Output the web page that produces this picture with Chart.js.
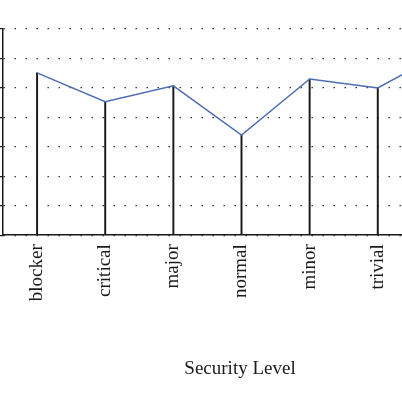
<!DOCTYPE html>
<html>
<head>
<meta charset="utf-8">
<script src="https://cdn.jsdelivr.net/npm/chart.js@4"></script>
<style>
  html, body { margin: 0; padding: 0; width: 402px; height: 402px; overflow: hidden; background: #fff; }
  #wrap { position: absolute; left: 0; top: 0; width: 482px; height: 402px; }
</style>
</head>
<body>
<div id="wrap"><canvas id="c"></canvas></div>
<script>
const categories = ["blocker", "critical", "major", "normal", "minor", "trivial", "enhancement"];
const values = [5.51, 4.53, 5.07, 3.40, 5.30, 5.00, 6.26];
const yTicks = [0, 1, 2, 3, 4, 5, 6, 7];
const axisTitle = "Security Level";

new Chart(document.getElementById('c'), {
  data: {
    labels: categories,
    datasets: [
      {
        type: 'line',
        data: values,
        borderColor: '#4a6cb3',
        borderWidth: 1.4,
        pointRadius: 0,
        tension: 0,
        order: 0,
        clip: false
      },
      {
        type: 'bar',
        data: values,
        backgroundColor: '#1a1a1a',
        barThickness: 1.3,
        order: 1
      }
    ]
  },
  options: {
    responsive: true,
    maintainAspectRatio: false,
    animation: false,
    layout: { padding: { top: 29, left: 0, right: 2, bottom: 0 } },
    plugins: {
      legend: { display: false },
      tooltip: { enabled: false },
      title: {
        display: true,
        position: 'bottom',
        text: axisTitle,
        color: '#1a1a1a',
        font: { family: 'Liberation Serif', size: 19, weight: 'normal' },
        padding: { top: 0, bottom: 22 }
      }
    },
    scales: {
      x: {
        type: 'category',
        offset: true,
        grid: { display: false, drawTicks: false },
        border: { display: true, color: '#1a1a1a', width: 1.5 },
        ticks: {
          color: '#1a1a1a',
          font: { family: 'Liberation Serif', size: 19 },
          minRotation: 90,
          maxRotation: 90,
          autoSkip: false,
          padding: 9
        },
        afterFit: (axis) => { axis.height = 122; }
      },
      y: {
        min: yTicks[0],
        max: yTicks[yTicks.length - 1],
        afterBuildTicks: (axis) => { axis.ticks = yTicks.map(v => ({ value: v })); },
        ticks: { display: false },
        grid: {
          color: '#2a2a2a',
          lineWidth: 1.3,
          drawTicks: true,
          tickLength: 3,
          tickBorderDash: [],
          tickColor: '#1a1a1a'
        },
        border: { display: true, color: '#1a1a1a', width: 1.5, dash: [1.4, 9.6] },
        afterFit: (axis) => { axis.width = 3; }
      }
    }
  }
});
</script>
</body>
</html>
